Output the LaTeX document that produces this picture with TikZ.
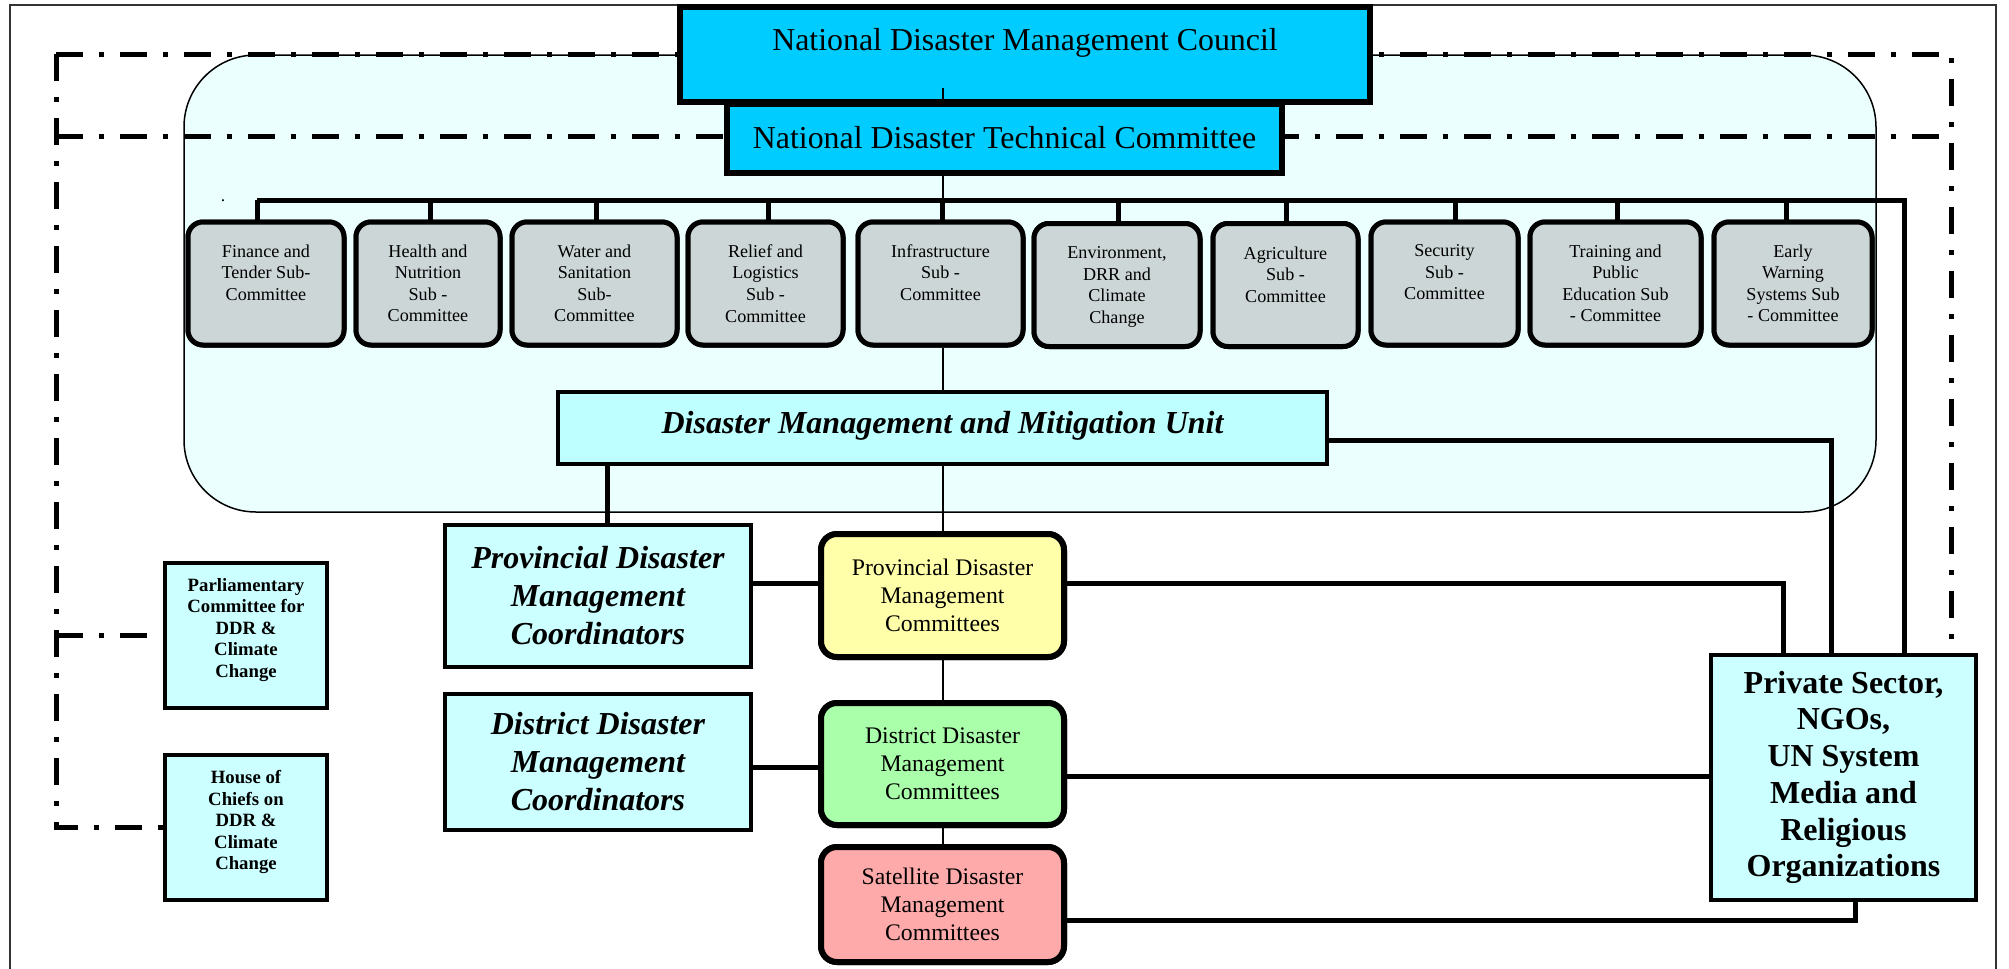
\documentclass[tikz,border=0pt]{standalone}
\usepackage{fontspec}
\setmainfont{Liberation Serif}
\definecolor{natcyan}{RGB}{0,204,255}
\definecolor{panel}{RGB}{236,255,255}
\definecolor{subgray}{RGB}{204,214,214}
\definecolor{unitcyan}{RGB}{190,255,255}
\definecolor{boxcyan}{RGB}{204,255,255}
\definecolor{provy}{RGB}{255,255,170}
\definecolor{distg}{RGB}{170,255,170}
\definecolor{satp}{RGB}{255,170,170}
\tikzset{
  thickln/.style={line width=2pt},
  thinln/.style={line width=0.6pt},
  ddash/.style={line width=2pt, dash pattern=on 10.8pt off 6.4pt on 2pt off 6.4pt},
  natbox/.style={draw, line width=2.4pt, fill=natcyan, inner sep=0pt},
  subbox/.style={draw, line width=2pt, fill=subgray, rounded corners=6pt, inner sep=0pt, minimum height=49.2pt},
  subtext/.style={anchor=north, align=center, inner sep=0pt, font=\fontsize{7.25}{8.65}\selectfont},
  cobox/.style={draw, line width=1.6pt, fill=boxcyan, inner sep=0pt, align=center, font=\fontsize{12.8}{15.2}\selectfont\bfseries\itshape, minimum width=122.4pt},
  combox/.style={draw, line width=2.4pt, rounded corners=6.4pt, inner sep=0pt, align=center, minimum width=97.2pt, font=\fontsize{9.5}{11.2}\selectfont},
  smallbox/.style={draw, line width=1.4pt, fill=boxcyan, inner sep=0pt, align=center, minimum width=64.8pt, minimum height=58pt, font=\fontsize{7.5}{8.6}\selectfont\bfseries}
}
\begin{document}
\begin{tikzpicture}[x=0.4pt,y=-0.4pt]
\useasboundingbox (0,0) rectangle (2009,968);
\clip (0,0) rectangle (2009,968);
% outer frame
\draw[black!80, line width=0.6pt] (10,1000) -- (10,5) -- (1996,5) -- (1996,1000);
% panel
\draw[fill=panel, line width=0.6pt, rounded corners=28.8pt] (184,55) rectangle (1876,512);

% nodes
\node[natbox, minimum width=276pt, minimum height=38pt] (ndmc) at (1025,54.5) {};
\node[natbox, minimum width=222pt, minimum height=27.6pt] (ndtc) at (1004.5,138.5) {};

\node[subbox, minimum width=62.4pt] (s1) at (266,283.5) {};
\node[subbox, minimum width=57.6pt] (s2) at (428,283.5) {};
\node[subbox, minimum width=66pt] (s3) at (594.5,283.5) {};
\node[subbox, minimum width=62pt] (s4) at (765.5,283.5) {};
\node[subbox, minimum width=66pt] (s5) at (940.5,283.5) {};
\node[subbox, minimum width=66.4pt] (s6) at (1117,285) {};
\node[subbox, minimum width=58pt] (s7) at (1285.5,285) {};
\node[subbox, minimum width=58.8pt] (s8) at (1444.5,283.5) {};
\node[subbox, minimum width=68.4pt] (s9) at (1615.5,283.5) {};
\node[subbox, minimum width=63.2pt] (s10) at (1793,283.5) {};

\node[draw, line width=1.6pt, fill=unitcyan, inner sep=0pt, minimum width=307.6pt, minimum height=28.8pt] (dmmu) at (942.5,428) {};
\node[cobox, minimum height=56.8pt] (pcoord) at (598,596) {Provincial Disaster\\Management\\Coordinators};
\node[cobox, minimum height=54.4pt] (dcoord) at (598,762) {District Disaster\\Management\\Coordinators};
\node[combox, fill=provy, minimum height=49.2pt] (pdmc) at (942.5,595.5) {Provincial Disaster\\Management\\Committees};
\node[combox, fill=distg, minimum height=48.8pt] (ddmc) at (942.5,764) {District Disaster\\Management\\Committees};
\node[combox, fill=satp, minimum height=46pt] (sdmc) at (942.5,904.5) {Satellite Disaster\\Management\\Committees};
\node[draw, line width=1.6pt, fill=boxcyan, inner sep=0pt, align=center, minimum width=106pt, minimum height=98pt, font=\fontsize{12.8}{14.7}\selectfont\bfseries] (priv) at (1843.5,777.5) {Private Sector,\\NGOs,\\UN System\\Media and\\Religious\\Organizations};
\node[smallbox] (parl) at (246,635.5) {};
\node[smallbox] (house) at (246,827.5) {};

% rails
\coordinate (cx) at (943,0);
\coordinate (left) at (56,0);
\coordinate (rdd) at (1951,0);
\coordinate (r1) at (1783,0);
\coordinate (r2) at (1831,0);
\coordinate (r3) at (1904,0);
\coordinate (r4) at (1855,0);
\coordinate (ytop) at (0,54);
\coordinate (ysec) at (0,136);
\coordinate (ybus) at (0,200);
\coordinate (yu) at (0,440);
\coordinate (yp) at (0,583);
\coordinate (yd) at (0,776);
\coordinate (ydl) at (0,767);
\coordinate (ys) at (0,920);

% dash-dot lines
\draw[ddash] (left |- ytop) -- (rdd |- ytop) -- (rdd |- priv.north);
\draw[ddash] (left |- ytop) -- (left |- house.west) -- (house.west);
\draw[ddash] (left |- ysec) -- (rdd |- ysec);
\draw[ddash] (left |- parl.west) -- (parl.west);

% bus and drops
\draw[thickln] (257,200) -- (r3 |- ybus) -- (r3 |- priv.north);
\foreach \n/\x in {s1/257,s2/430,s3/596,s4/768,s5/942,s6/1118,s7/1286,s8/1455,s9/1617,s10/1786}{
  \draw[thickln] (\x,200) -- (\x,0 |- \n.north);
}
% centre thin line
\draw[thinln] (cx |- 0,88) -- (cx |- ndmc.south);
\draw[thinln] (cx |- ndtc.south) -- (cx |- ybus);
\draw[thinln] (cx |- s5.south) -- (cx |- dmmu.north);
\draw[thinln] (cx |- dmmu.south) -- (cx |- pdmc.north);
\draw[thinln] (cx |- pdmc.south) -- (cx |- ddmc.north);
\draw[thinln] (cx |- ddmc.south) -- (cx |- sdmc.north);
% thick connectors
\draw[thickln] (607,0 |- dmmu.south) -- (607,0 |- pcoord.north);
\draw[thickln] (dmmu.east |- yu) -- (r2 |- yu) -- (r2 |- priv.north);
\draw[thickln] (pcoord.east |- yp) -- (pdmc.west |- yp);
\draw[thickln] (pdmc.east |- yp) -- (r1 |- yp) -- (r1 |- priv.north);
\draw[thickln] (dcoord.east |- ydl) -- (ddmc.west |- ydl);
\draw[thickln] (ddmc.east |- yd) -- (priv.west |- yd);
\draw[thickln] (sdmc.east |- ys) -- (r4 |- ys) -- (r4 |- priv.south);

% redraw boxes on top
\node[natbox, minimum width=276pt, minimum height=38pt] at (ndmc) {};
\draw[thinln] (cx |- 0,88) -- (cx |- ndmc.south);
\node[natbox, minimum width=222pt, minimum height=27.6pt] at (ndtc) {};
\node[anchor=base, font=\fontsize{12.75}{15}\selectfont] (t1) at (1025,50) {National Disaster Management Council};
\node[anchor=base, font=\fontsize{12.75}{15}\selectfont] (t2) at (1004.5,148) {National Disaster Technical Committee};
\node[subbox, minimum width=62.4pt] at (s1) {};
\node[subbox, minimum width=57.6pt] at (s2) {};
\node[subbox, minimum width=66pt] at (s3) {};
\node[subbox, minimum width=62pt] at (s4) {};
\node[subbox, minimum width=66pt] at (s5) {};
\node[subbox, minimum width=66.4pt] at (s6) {};
\node[subbox, minimum width=58pt] at (s7) {};
\node[subbox, minimum width=58.8pt] at (s8) {};
\node[subbox, minimum width=68.4pt] at (s9) {};
\node[subbox, minimum width=63.2pt] at (s10) {};
\node[subtext] at (266,244) {Finance and\\Tender Sub-\\Committee};
\node[subtext] at (428,244) {Health and\\Nutrition\\Sub -\\Committee};
\node[subtext] at (594.5,244) {Water and\\Sanitation\\Sub-\\Committee};
\node[subtext] at (765.5,244) {Relief and\\Logistics\\Sub -\\Committee};
\node[subtext] at (940.5,244) {Infrastructure\\Sub -\\Committee};
\node[subtext] at (1117,246) {Environment,\\DRR and\\Climate\\Change};
\node[subtext] at (1285.5,246) {Agriculture\\Sub -\\Committee};
\node[subtext] at (1444.5,244) {Security\\Sub -\\Committee};
\node[subtext] at (1615.5,244) {Training and\\Public\\Education Sub\\- Committee};
\node[subtext] at (1793,244) {Early\\Warning\\Systems Sub\\- Committee};
\node[draw, line width=1.6pt, fill=unitcyan, inner sep=0pt, minimum width=307.6pt, minimum height=28.8pt] at (dmmu) {};
\node[anchor=base, font=\fontsize{12.8}{15}\selectfont\bfseries\itshape] (t3) at (942.5,433) {Disaster Management and Mitigation Unit};
\node[cobox, minimum height=56.8pt] at (pcoord) {Provincial Disaster\\Management\\Coordinators};
\node[cobox, minimum height=54.4pt] at (dcoord) {District Disaster\\Management\\Coordinators};
\node[combox, fill=provy, minimum height=49.2pt] at (pdmc) {Provincial Disaster\\Management\\Committees};
\node[combox, fill=distg, minimum height=48.8pt] at (ddmc) {District Disaster\\Management\\Committees};
\node[combox, fill=satp, minimum height=46pt] at (sdmc) {Satellite Disaster\\Management\\Committees};
\node[draw, line width=1.6pt, fill=boxcyan, inner sep=0pt, align=center, minimum width=106pt, minimum height=98pt, font=\fontsize{12.8}{14.7}\selectfont\bfseries] at (priv) {Private Sector,\\NGOs,\\UN System\\Media and\\Religious\\Organizations};
\node[smallbox] at (parl) {};
\node[smallbox] at (house) {};
\node[align=center, inner sep=0pt, font=\fontsize{7.5}{8.6}\selectfont\bfseries] (pt) at (246,630) {Parliamentary\\Committee for\\DDR \&\\Climate\\Change};
\node[align=center, inner sep=0pt, font=\fontsize{7.5}{8.6}\selectfont\bfseries] (ht) at (246,822) {House of\\Chiefs on\\DDR \&\\Climate\\Change};
\node[anchor=base, inner sep=0pt, font=\fontsize{7}{8}\selectfont] (dot) at (223,201) {.};
\end{tikzpicture}
\end{document}
